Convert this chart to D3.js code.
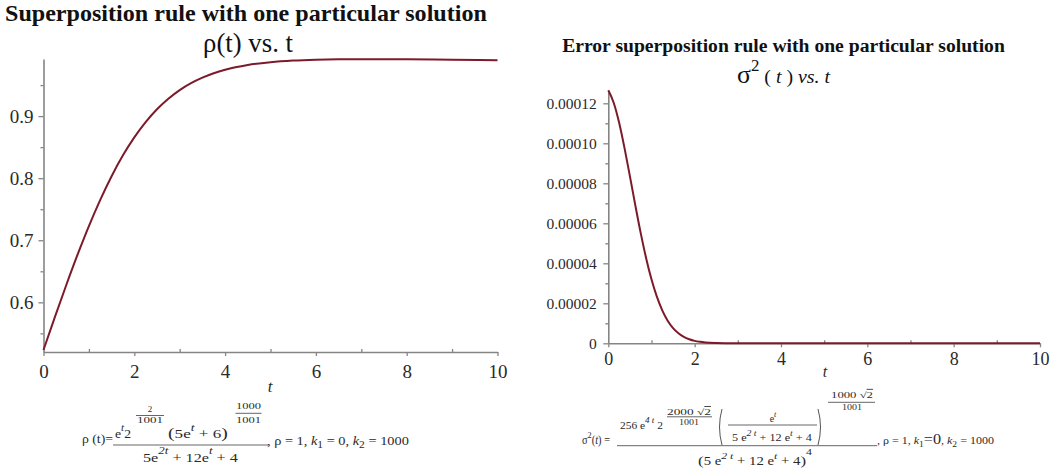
<!DOCTYPE html>
<html><head><meta charset="utf-8">
<script src="https://cdn.jsdelivr.net/npm/d3@7/dist/d3.min.js"></script>
<style>
body{margin:0;background:#fff}
svg{display:block}
text{font-family:"Liberation Serif","Times New Roman",serif}
</style>
</head><body>
<svg id="c" width="1052" height="469"></svg>
<script>
// ---------- data ----------
const tRho = [0,0.25,0.5,0.75,1,1.25,1.5,1.75,2,2.25,2.5,2.75,3,3.25,3.5,3.75,4,4.5,5,5.5,6,6.5,7,8,9,10];
const rhoValues = [0.5233,0.5761,0.6275,0.6767,0.7228,0.7651,0.8032,0.8368,0.8658,0.8904,0.9110,0.9280,0.9419,0.9530,0.9619,0.9690,0.9746,0.9823,0.9868,0.9894,0.9908,0.9915,0.9917,0.9914,0.9907,0.9898];
const tSigma = [0,0.125,0.25,0.375,0.5,0.625,0.75,0.875,1,1.125,1.25,1.375,1.5,1.625,1.75,1.875,2,2.125,2.25,2.5,2.75,3,3.5,4,5,6,7,8,9,10];
const sigmaValues = [1.265e-4,1.203e-4,1.104e-4,9.77e-5,8.36e-5,6.91e-5,5.52e-5,4.27e-5,3.20e-5,2.33e-5,1.65e-5,1.13e-5,7.6e-6,5.0e-6,3.2e-6,2.0e-6,1.2e-6,7.4e-7,4.4e-7,1.5e-7,4.7e-8,1.4e-8,1.2e-9,1e-10,0,0,0,0,0,0];

const xTicks = [0,2,4,6,8,10];
const xMinorTicks = [1,3,5,7,9];
const rhoYTicks = [0.6,0.7,0.8,0.9];
const rhoYMinor = [0.55,0.65,0.75,0.85,0.95];
const sigmaYTicks = [0,0.00002,0.00004,0.00006,0.00008,0.00010,0.00012];
const sigmaYLabels = ["0","0.00002","0.00004","0.00006","0.00008","0.00010","0.00012"];
const sigmaYMinor = [0.00001,0.00003,0.00005,0.00007,0.00009,0.00011];

const leftTitle = "Superposition rule with one particular solution";
const rightTitle = "Error superposition rule with one particular solution";

// ---------- drawing ----------
const svg = d3.select("#c");
const AXIS = "#858585", CURVE = "#7d1a2a", TXT = "#2a2a2a";

function rich(g, x, y, parts, size, o = {}) {
  const build = fs => {
    const t = g.append("text").attr("x", x).attr("y", y).attr("font-size", fs)
      .attr("text-anchor", o.anchor || "start").attr("fill", o.fill || TXT);
    if (o.bold) t.attr("font-weight", "bold");
    if (o.italic) t.attr("font-style", "italic");
    let cur = 0;
    parts.forEach(p => {
      if (typeof p === "string") p = {s: p};
      const rel = p.z || 1, raise = (p.r || 0) * fs;
      const sp = t.append("tspan").text(p.s).attr("font-size", fs * rel).attr("dy", -(raise - cur));
      if (p.i) sp.attr("font-style", "italic");
      if (p.o) sp.style("text-decoration", "overline");
      cur = raise;
    });
    return t;
  };
  let t = build(size);
  if (o.w) { const w = t.node().getComputedTextLength(); t.remove(); t = build(size * o.w / w); }
  if (o.tl) {
    const w = t.node().getComputedTextLength();
    t.attr("x", 0).attr("y", 0).attr("transform", `translate(${x},${y}) scale(${o.tl / w},1)`);
  }
  return t;
}
function bar(g, x1, x2, y, w) {
  g.append("line").attr("x1", x1).attr("x2", x2).attr("y1", y).attr("y2", y)
    .attr("stroke", "#555").attr("stroke-width", w || 0.9);
}
function paren(g, x, y1, y2, right) {
  const d = right ? 5 : -5, m = (y1 + y2) / 2;
  g.append("path").attr("d", `M${x},${y1} Q${x + d},${m} ${x},${y2}`)
    .attr("fill", "none").attr("stroke", "#555").attr("stroke-width", 1);
}

function styleAxis(g) {
  g.select(".domain").attr("stroke", AXIS).attr("stroke-width", 1.6);
  g.selectAll(".tick line").attr("stroke", AXIS).attr("stroke-width", 1.3);
  g.selectAll("text").attr("fill", TXT).attr("font-family", '"Liberation Serif","Times New Roman",serif');
}

// ===== LEFT CHART =====
const xL = d3.scaleLinear().domain([0, 10]).range([43.5, 497.5]);
const yL = d3.scaleLinear().domain([0.52, 0.992]).range([352, 59]);
const gL = svg.append("g");

gL.append("g").attr("transform", "translate(0,352)")
  .call(d3.axisBottom(xL).tickValues(xMinorTicks).tickSize(-3).tickFormat(""))
  .call(g => { g.select(".domain").remove(); styleAxis(g); });
gL.append("g").attr("transform", "translate(43.5,0)")
  .call(d3.axisLeft(yL).tickValues(rhoYMinor).tickSize(3).tickFormat(""))
  .call(g => { g.select(".domain").remove(); styleAxis(g); });
const axLx = gL.append("g").attr("transform", "translate(0,352)")
  .call(d3.axisBottom(xL).tickValues(xTicks).tickSizeInner(4).tickSizeOuter(0).tickFormat(d3.format("d")))
  .call(styleAxis);
axLx.selectAll("text").attr("font-size", 19).attr("y", 26).attr("dy", 0);
const axLy = gL.append("g").attr("transform", "translate(43.5,0)")
  .call(d3.axisLeft(yL).tickValues(rhoYTicks).tickSizeInner(5).tickSizeOuter(0).tickPadding(5).tickFormat(d3.format(".1f")))
  .call(styleAxis);
axLy.selectAll("text").attr("font-size", 19);

gL.append("path").datum(tRho.map((t, i) => [t, rhoValues[i]]))
  .attr("fill", "none").attr("stroke", CURVE).attr("stroke-width", 2)
  .attr("d", d3.line().x(d => xL(d[0])).y(d => yL(d[1])).curve(d3.curveMonotoneX));

rich(gL, 5, 21, [leftTitle], 21, {bold: true, w: 482, fill: "#111"});
rich(gL, 248, 52, ["ρ(t) vs. t"], 20, {anchor: "middle", w: 90, fill: "#111"});
rich(gL, 270, 392, [{s: "t", i: true}], 17, {anchor: "middle"});

// left formula
const fL = gL.append("g");
rich(fL, 82, 442.5, ["ρ (t)="], 12.5, {tl: 31});
rich(fL, 115, 438, ["e", {s: "t", i: true, z: 0.8, r: 0.55}, {s: "2"}], 13, {tl: 16});
rich(fL, 150, 411.7, ["2"], 9, {anchor: "middle"});
bar(fL, 136, 164, 415.5);
rich(fL, 150, 423, ["1001"], 9, {anchor: "middle", tl: 26});
rich(fL, 168, 438, [{s: "(", z: 1.15}, {s: "5e"}, {s: "t", i: true, z: 0.8, r: 0.55}, {s: " + 6"}, {s: ")", z: 1.15}], 13, {tl: 60});
rich(fL, 248.5, 409, ["1000"], 9, {anchor: "middle", tl: 25});
bar(fL, 235.5, 261.5, 413.3);
rich(fL, 248.5, 422.5, ["1001"], 9, {anchor: "middle", tl: 25});
bar(fL, 113, 268, 445);
rich(fL, 143, 461.5, ["5e", {s: "2t", i: true, z: 0.8, r: 0.55}, {s: " + 12e"}, {s: "t", i: true, z: 0.8, r: 0.55}, {s: " + 4"}], 13, {tl: 95});
rich(fL, 267, 444.5, [", ρ = 1, ", {s: "k", i: true}, {s: "1", z: 0.8, r: -0.3}, {s: " = 0, "}, {s: "k", i: true}, {s: "2", z: 0.8, r: -0.3}, {s: " = 1000"}], 13, {tl: 142});

// ===== RIGHT CHART =====
const xR = d3.scaleLinear().domain([0, 10]).range([608.3, 1040]);
const yR = d3.scaleLinear().domain([0, 0.0001265]).range([343.3, 90.3]);
const gR = svg.append("g");

gR.append("g").attr("transform", "translate(0,343.3)")
  .call(d3.axisBottom(xR).tickValues(xMinorTicks).tickSize(-3).tickFormat(""))
  .call(g => { g.select(".domain").remove(); styleAxis(g); });
gR.append("g").attr("transform", "translate(608.3,0)")
  .call(d3.axisLeft(yR).tickValues(sigmaYMinor).tickSize(3).tickFormat(""))
  .call(g => { g.select(".domain").remove(); styleAxis(g); });
const axRx = gR.append("g").attr("transform", "translate(0,343.3)")
  .call(d3.axisBottom(xR).tickValues(xTicks).tickSizeInner(4).tickSizeOuter(0).tickFormat(d3.format("d")))
  .call(styleAxis);
axRx.selectAll("text").attr("font-size", 18).attr("y", 22).attr("dy", 0);
const axRy = gR.append("g").attr("transform", "translate(608.3,0)")
  .call(d3.axisLeft(yR).tickValues(sigmaYTicks).tickSizeInner(5).tickSizeOuter(0).tickPadding(6.5)
    .tickFormat((d, i) => sigmaYLabels[i]))
  .call(styleAxis);
axRy.selectAll("text").attr("font-size", 15.5);

gR.append("path").datum(tSigma.map((t, i) => [t, sigmaValues[i]]))
  .attr("fill", "none").attr("stroke", CURVE).attr("stroke-width", 2)
  .attr("d", d3.line().x(d => xR(d[0])).y(d => yR(d[1])).curve(d3.curveMonotoneX));

rich(gR, 783.5, 52, [rightTitle], 16, {anchor: "middle", bold: true, w: 443, fill: "#111"});
rich(gR, 783.5, 83, [{s: "σ", z: 1.3}, {s: "2", z: 0.85, r: 0.6}, {s: " ( "}, {s: "t", i: true}, {s: " ) "}, {s: "vs. t", i: true}], 16, {anchor: "middle", w: 93, fill: "#111"});
rich(gR, 825, 377, [{s: "t", i: true}], 16, {anchor: "middle"});

// right formula
const fR = gR.append("g");
rich(fR, 582, 444, ["σ", {s: "2", z: 0.8, r: 0.5}, {s: "("}, {s: "t", i: true}, {s: ") ="}], 11.5, {tl: 28});
bar(fR, 617, 877, 445.7);
rich(fR, 620, 428.5, ["256 e", {s: "4 t", i: true, z: 0.8, r: 0.5}, {s: " 2"}], 11, {tl: 43});
rich(fR, 689, 414.5, ["2000 √", {s: "2", o: true}], 8.5, {anchor: "middle", tl: 44});
bar(fR, 667, 712, 416.8);
rich(fR, 689, 424.5, ["1001"], 8.5, {anchor: "middle", tl: 20});
paren(fR, 722, 409, 445, false);
paren(fR, 818, 409, 445, true);
rich(fR, 773, 421.5, ["e", {s: "t", i: true, z: 0.8, r: 0.5}], 10, {anchor: "middle"});
bar(fR, 728, 817, 425);
rich(fR, 732, 441, ["5 e", {s: "2 t", i: true, z: 0.8, r: 0.5}, {s: " + 12 e"}, {s: "t", i: true, z: 0.8, r: 0.5}, {s: " + 4"}], 11, {tl: 80});
rich(fR, 852, 397.5, ["1000 √", {s: "2", o: true}], 8.5, {anchor: "middle", tl: 42});
bar(fR, 828, 875, 402.3);
rich(fR, 852, 410, ["1001"], 8.5, {anchor: "middle", tl: 20});
rich(fR, 698, 464.5, [{s: "(", z: 1.15}, {s: "5 e"}, {s: "2 t", i: true, z: 0.8, r: 0.5}, {s: " + 12 e"}, {s: "t", i: true, z: 0.8, r: 0.5}, {s: " + 4"}, {s: ")", z: 1.15}, {s: "4", z: 0.8, r: 0.8}], 11.5, {tl: 114});
rich(fR, 877, 443.5, [", ρ = 1, ", {s: "k", i: true}, {s: "1", z: 0.8, r: -0.3}, {s: "=0", z: 1.35}, {s: ", "}, {s: "k", i: true}, {s: "2", z: 0.8, r: -0.3}, {s: " = 1000"}], 11, {tl: 117});
</script>
</body></html>
